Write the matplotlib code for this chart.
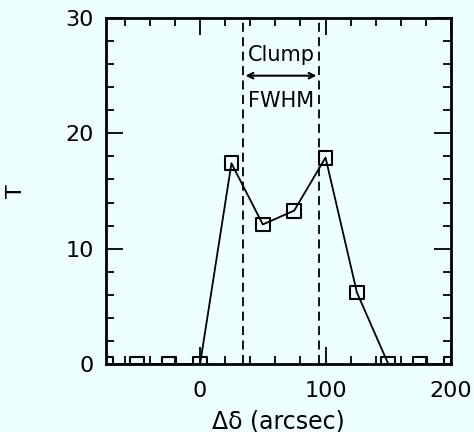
import matplotlib
matplotlib.use('Agg')
import matplotlib.pyplot as plt
from matplotlib.ticker import MultipleLocator

# data
offsets = [-75, -50, -25, 0, 25, 50, 75, 100, 125, 150, 175, 200]
temps = [0, 0, 0, 0, 17.4, 12.1, 13.3, 17.9, 6.2, 0, 0, 0]
fwhm_edges = [34, 95]

bg = '#eeffff'
fig = plt.figure(figsize=(4.74, 4.32), dpi=100, facecolor=bg)
ax = fig.add_axes([0.2236, 0.1574, 0.7279, 0.8009])
ax.set_facecolor(bg)

ax.plot(offsets, temps, color='black', linewidth=1.3)
# scatter so the squares sitting on the axes get clipped like the original
ax.scatter(offsets, temps, marker='s', s=100, facecolors='none',
           edgecolors='black', linewidths=1.5, zorder=3)

for xe in fwhm_edges:
    ax.axvline(xe, color='black', linestyle=(0, (5, 3)), linewidth=1.3)

ax.annotate('', xy=(fwhm_edges[0], 25), xytext=(fwhm_edges[1], 25),
            arrowprops=dict(arrowstyle='<->', color='black', lw=1.5))
xm = (fwhm_edges[0] + fwhm_edges[1]) / 2
ax.text(xm, 26.3, 'Clump', ha='center', va='baseline', fontsize=15)
ax.text(xm, 22.3, 'FWHM', ha='center', va='baseline', fontsize=15)

ax.set_xlim(-75, 200)
ax.set_ylim(0, 30)
ax.xaxis.set_major_locator(MultipleLocator(100))
ax.xaxis.set_minor_locator(MultipleLocator(20))
ax.yaxis.set_major_locator(MultipleLocator(10))
ax.yaxis.set_minor_locator(MultipleLocator(2))
ax.tick_params(which='both', direction='in', top=True, right=True, width=1.3,
               labelsize=16)
ax.tick_params(axis='x', pad=12)
ax.tick_params(axis='y', pad=9)
ax.tick_params(which='major', length=12)
ax.tick_params(which='minor', length=6)
for s in ax.spines.values():
    s.set_linewidth(2)
    s.set_zorder(4)

ax.set_xlabel('\u0394\u03b4 (arcsec)', fontsize=17, labelpad=6)
ax.set_ylabel('T', fontsize=16, labelpad=28, rotation=90)

fig.savefig('out.png', dpi=100, facecolor=bg)
